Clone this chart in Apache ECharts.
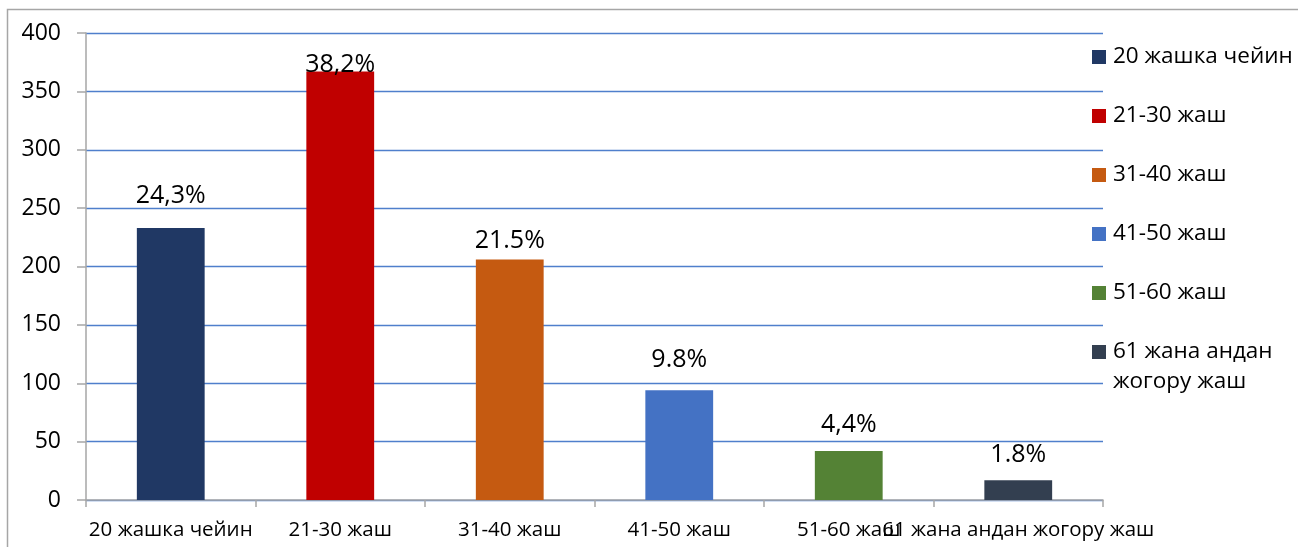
<!DOCTYPE html>
<html>
<head>
<meta charset="utf-8">
<script src="https://cdn.jsdelivr.net/npm/echarts@6/dist/echarts.min.js"></script>
<style>
  html, body { margin: 0; padding: 0; background: #fff; }
  #chart { width: 1298px; height: 547px; }
</style>
</head>
<body>
<div id="chart"></div>
<script>
// ---- data ----
const categories = ['20 жашка чейин', '21-30 жаш', '31-40 жаш', '41-50 жаш', '51-60 жаш', '61 жана андан жогору жаш'];
const values = [233, 367, 206, 94, 42, 17];
const percentLabels = ['24,3%', '38,2%', '21.5%', '9.8%', '4,4%', '1.8%'];
const legendLines = [['20 жашка чейин'], ['21-30 жаш'], ['31-40 жаш'], ['41-50 жаш'], ['51-60 жаш'], ['61 жана андан', 'жогору жаш']];
const yTicks = [0, 50, 100, 150, 200, 250, 300, 350, 400];

// ---- style ----
const colors = ['#203864', '#C00000', '#C55A11', '#4472C4', '#548235', '#333F50'];
const labelDistances = [20, -6, 6, 18, 14, 13];
const FONT = '"Open Sans", "Noto Sans", sans-serif';

const chart = echarts.init(document.getElementById('chart'), null, { renderer: 'canvas' });

const series = categories.map(function (name, i) {
  return {
    name: name,
    type: 'bar',
    stack: 'all',
    barWidth: '40%',
    itemStyle: { color: colors[i] },
    data: categories.map(function (c, j) { return j === i ? values[i] : '-'; }),
    label: {
      show: true,
      position: 'top',
      distance: labelDistances[i],
      color: '#000',
      fontFamily: FONT,
      fontSize: 25,
      formatter: function () { return percentLabels[i]; }
    }
  };
});

const rich = {
  t: { fontFamily: FONT, fontSize: 22.5, color: '#000', lineHeight: 30, padding: [0, 0, 0, 7] },
  sp: { width: 14, height: 14 }
};
colors.forEach(function (c, i) {
  rich['s' + i] = { width: 14, height: 14, backgroundColor: c };
});

const option = {
  backgroundColor: '#fff',
  animation: false,
  grid: { left: 86, right: 195, top: 33, bottom: 47, containLabel: false },
  legend: {
    orient: 'vertical',
    left: 1087,
    top: 42,
    padding: 0,
    itemWidth: 0,
    itemHeight: 0,
    itemGap: 29,
    selectedMode: false,
    data: categories,
    formatter: function (name) {
      const i = categories.indexOf(name);
      const lines = legendLines[i];
      return lines.map(function (l, k) {
        return (k === 0 ? '{s' + i + '|}' : '{sp|}') + '{t|' + l + '}';
      }).join('\n');
    },
    textStyle: { fontFamily: FONT, fontSize: 22.5, color: '#000', lineHeight: 30, rich: rich }
  },
  xAxis: {
    type: 'category',
    data: categories,
    axisLine: { show: true, lineStyle: { color: '#a6a6a6', width: 1.5 } },
    axisTick: { show: true, length: 7, lineStyle: { color: '#a6a6a6', width: 1.5 } },
    axisLabel: { interval: 0, margin: 20, color: '#000', fontFamily: FONT, fontSize: 20.5, hideOverlap: false },
    splitLine: { show: false }
  },
  yAxis: {
    type: 'value',
    min: yTicks[0],
    max: yTicks[yTicks.length - 1],
    interval: yTicks[1] - yTicks[0],
    axisLine: { show: true, lineStyle: { color: '#a6a6a6', width: 1.5 } },
    axisTick: { show: true, length: 9, lineStyle: { color: '#a6a6a6', width: 1.5 } },
    axisLabel: { margin: 25, color: '#000', fontFamily: FONT, fontSize: 23 },
    splitLine: { show: true, lineStyle: { color: '#4F7FCC', width: 1.3 } }
  },
  graphic: [{
    type: 'rect',
    silent: true,
    z: -1,
    shape: { x: 7.5, y: 9.5, width: 1400, height: 700 },
    style: { fill: 'none', stroke: '#a6a6a6', lineWidth: 1.5 }
  }],
  series: series
};

chart.setOption(option);
</script>
</body>
</html>
